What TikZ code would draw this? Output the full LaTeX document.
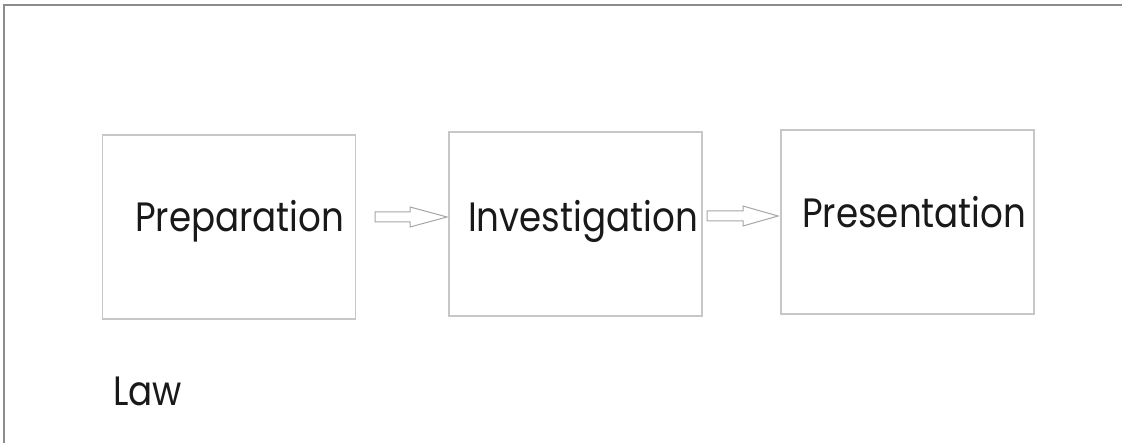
\documentclass[tikz,border=0pt]{standalone}
\usepackage{fontspec}
\setmainfont{Poppins}[FakeStretch=0.87]
\begin{document}
\begin{tikzpicture}[x=1pt,y=-1pt,
  stagebox/.style={draw=black!22,line width=1.2pt,inner sep=0pt},
  stagetext/.style={anchor=base west,inner sep=0pt,font=\fontsize{41}{44}\selectfont,text=black!90},
  blockarrow/.style={draw=black!35,line width=1pt,fill=white,line join=miter},
  frame/.style={draw=black!45,line width=1.2pt}]
\useasboundingbox (0,0) rectangle (1122,443);
\draw[frame] (4,443) -- (4,5) -- (1122,5);
\node[stagebox,minimum width=253pt,minimum height=184pt] (prep) at (229,227) {};
\node[stagebox,minimum width=253pt,minimum height=184pt] (inv) at (575.5,224) {};
\node[stagebox,minimum width=253pt,minimum height=184pt] (pres) at (907.5,222) {};
\node[stagetext] (tprep) at (135,232) {Preparation};
\node[stagetext] (tinv) at (468,232) {Investigation};
\node[stagetext] (tpres) at (802,228) {Presentation};
\node[stagetext] (law) at (113,406) {Law};
\draw[blockarrow] (375,212) -- (410,212) -- (410,207) -- (447,217) -- (410,227) -- (410,222) -- (375,222) -- cycle;
\draw[blockarrow] (707,211) -- (743,211) -- (743,206) -- (778,216) -- (743,226) -- (743,221) -- (707,221) -- cycle;
\end{tikzpicture}
\end{document}
